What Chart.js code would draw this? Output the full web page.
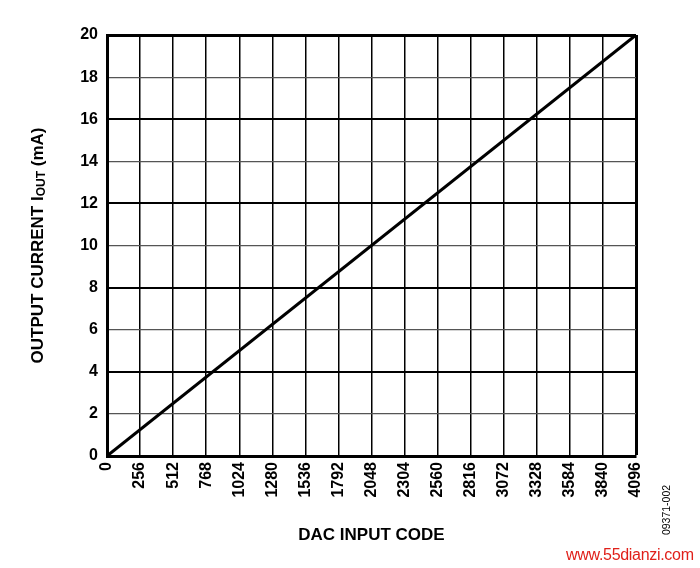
<!DOCTYPE html>
<html>
<head>
<meta charset="utf-8">
<script src="https://cdn.jsdelivr.net/npm/chart.js@4"></script>
<style>
  body { margin: 0; background: #fff; }
  #wrap { position: relative; width: 700px; height: 568px; }
  #note { position: absolute; left: 666px; top: 510px; transform: translate(-50%, -50%) rotate(-90deg);
          font: 10.5px "Liberation Sans", Arial, sans-serif; color: #000; white-space: nowrap; }
  #mark { position: absolute; left: 566px; top: 546px; font: 16px "Liberation Sans", Arial, sans-serif;
          color: #e0201a; white-space: nowrap; letter-spacing: -0.3px; }
</style>
</head>
<body>
<div id="wrap">
  <canvas id="chart" width="700" height="568"></canvas>
  <div id="note">09371-002</div>
  <div id="mark">www.55dianzi.com</div>
</div>
<script>
// DATA
const dac_codes = [0, 4096];
const out_current = [0, 20];
const x_ticks = [0, 256, 512, 768, 1024, 1280, 1536, 1792, 2048, 2304, 2560, 2816, 3072, 3328, 3584, 3840, 4096];
const y_ticks = [0, 2, 4, 6, 8, 10, 12, 14, 16, 18, 20];

const FONT = "'Liberation Sans', Arial, sans-serif";

// Y title with subscript "OUT"
const yTitlePlugin = {
	id: 'yTitle',
	afterDraw(chart) {
		const c = chart.ctx;
		const area = chart.chartArea;
		c.save();
		c.translate(38, (area.top + area.bottom) / 2);
		c.rotate(-Math.PI / 2);
		c.fillStyle = '#000';
		c.textBaseline = 'middle';
		const big = 'bold 17px ' + FONT;
		const small = 'bold 12px ' + FONT;
		const parts = [['OUTPUT CURRENT I', big, 0], ['OUT', small, 4], [' (mA)', big, 0]];
		let total = 0;
		parts.forEach(p => { c.font = p[1]; total += c.measureText(p[0]).width; });
		let x = -total / 2;
		parts.forEach(p => {
			c.font = p[1];
			c.fillText(p[0], x, p[2]);
			x += c.measureText(p[0]).width;
		});
		c.restore();
	}
};

const ctx = document.getElementById('chart').getContext('2d');
new Chart(ctx, {
	type: 'scatter',
	data: {
		datasets: [{
			data: dac_codes.map((v, i) => ({ x: v, y: out_current[i] })),
			showLine: true,
			borderColor: '#000',
			borderWidth: 3,
			pointRadius: 0,
			fill: false
		}]
	},
	options: {
		responsive: false,
		animation: false,
		layout: { padding: { top: 35, right: 64, bottom: 20, left: 0 } },
		plugins: { legend: { display: false }, tooltip: { enabled: false } },
		scales: {
			x: {
				type: 'linear',
				min: 0, max: 4096,
				afterBuildTicks: s => { s.ticks = x_ticks.map(v => ({ value: v })); },
				afterFit: s => { s.height = 92; },
				grid: {
					drawTicks: false,
					color: '#000',
					lineWidth: c => (c.tick && c.tick.value === 4096) ? 3 : 1.5
				},
				border: { color: '#000', width: 3 },
				ticks: {
					color: '#000',
					font: { family: FONT, size: 16, weight: 'bold' },
					minRotation: 90, maxRotation: 90,
					padding: 6,
					autoSkip: false,
					callback: v => String(v)
				},
				title: {
					display: true,
					text: 'DAC INPUT CODE',
					color: '#000',
					font: { family: FONT, size: 17, weight: 'bold' },
					padding: { top: 0, bottom: 2 }
				}
			},
			y: {
				min: 0, max: 20,
				afterBuildTicks: s => { s.ticks = y_ticks.map(v => ({ value: v })); },
				afterFit: s => { s.width = 107; },
				grid: {
					drawTicks: false,
					color: c => (c.tick && c.tick.value % 4 === 0) ? '#000' : '#555',
					lineWidth: c => {
						if (!c.tick) return 1;
						if (c.tick.value === 20) return 3;
						return c.tick.value % 4 === 0 ? 2 : 1.2;
					}
				},
				border: { color: '#000', width: 3 },
				ticks: {
					color: '#000',
					font: { family: FONT, size: 16, weight: 'bold' },
					padding: 9,
					callback: v => String(v)
				}
			}
		}
	},
	plugins: [yTitlePlugin]
});
</script>
</body>
</html>
